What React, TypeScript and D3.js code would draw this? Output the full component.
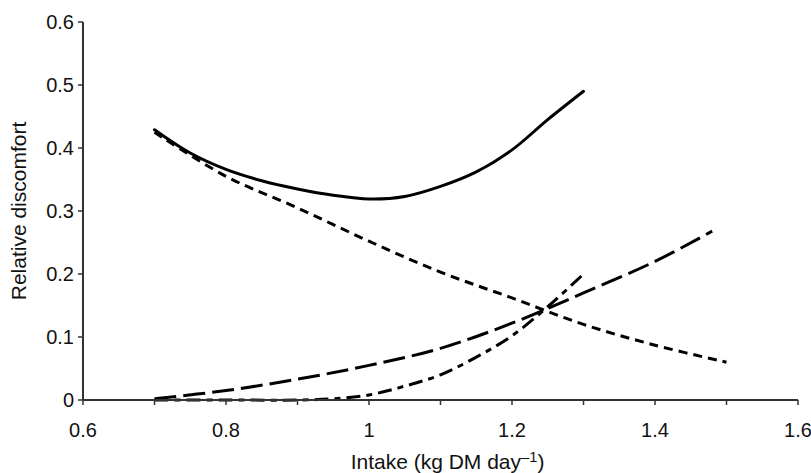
import React from "react";
import * as d3 from "d3";

// Intake (kg DM/day) vs relative discomfort
const solidX = [0.7, 0.75, 0.8, 0.85, 0.9, 0.95, 1.0, 1.05, 1.1, 1.15, 1.2, 1.25, 1.3];
const solidY = [0.429, 0.392, 0.366, 0.348, 0.335, 0.325, 0.319, 0.323, 0.339, 0.362, 0.397, 0.445, 0.49];

const shortDashX = [0.7, 0.8, 0.9, 1.0, 1.1, 1.2, 1.3, 1.4, 1.5];
const shortDashY = [0.425, 0.355, 0.305, 0.252, 0.203, 0.162, 0.12, 0.087, 0.06];

const longDashX = [0.7, 0.8, 0.9, 1.0, 1.1, 1.2, 1.3, 1.4, 1.48];
const longDashY = [0.002, 0.015, 0.033, 0.055, 0.082, 0.122, 0.17, 0.22, 0.268];

const mixedDashX = [0.7, 0.8, 0.9, 0.95, 1.0, 1.05, 1.1, 1.15, 1.2, 1.25, 1.3];
const mixedDashY = [0, 0, 0, 0.002, 0.008, 0.022, 0.04, 0.068, 0.102, 0.148, 0.2];

const xTicks = [0.6, 0.7, 0.8, 0.9, 1.0, 1.1, 1.2, 1.3, 1.4, 1.5, 1.6];
const xTickLabels = ["0.6", "", "0.8", "", "1", "", "1.2", "", "1.4", "", "1.6"];
const yTicks = [0, 0.1, 0.2, 0.3, 0.4, 0.5, 0.6];
const yTickLabels = ["0", "0.1", "0.2", "0.3", "0.4", "0.5", "0.6"];

const W = 811;
const H = 473;
const left = 83, right = 798, top = 22, bottom = 400;

export default function App() {
  const x = d3.scaleLinear().domain([0.6, 1.6]).range([left, right]);
  const y = d3.scaleLinear().domain([0, 0.6]).range([bottom, top]);
  const line = d3
    .line<[number, number]>()
    .x((d) => x(d[0]))
    .y((d) => y(d[1]))
    .curve(d3.curveCatmullRom.alpha(0.5));
  const pts = (xs: number[], ys: number[]) => xs.map((v, i) => [v, ys[i]] as [number, number]);
  const font = "Liberation Sans, Arial, Helvetica, sans-serif";
  const fs = 20;
  const fsTitle = 21;
  const axisColor = "#333";

  return (
    <svg
      width={W}
      height={H}
      style={{ position: "absolute", left: 0, top: 0, background: "#fff" }}
      fontFamily={font}
    >
      <path d={line(pts(shortDashX, shortDashY)) || ""} fill="none" stroke="#000" strokeWidth={3} strokeDasharray="9,6" />
      <path d={line(pts(longDashX, longDashY)) || ""} fill="none" stroke="#000" strokeWidth={3} strokeDasharray="22,7" />
      <path d={line(pts(mixedDashX, mixedDashY)) || ""} fill="none" stroke="#000" strokeWidth={3} strokeDasharray="14,6,6,6" />
      <path d={line(pts(solidX, solidY)) || ""} fill="none" stroke="#000" strokeWidth={3} strokeLinecap="round" />

      {/* axes */}
      <line x1={left} x2={left} y1={top} y2={bottom} stroke={axisColor} strokeWidth={2} />
      <line x1={left} x2={right} y1={bottom} y2={bottom} stroke={axisColor} strokeWidth={2} />
      {yTicks.map((t, i) => (
        <g key={"y" + i}>
          <line x1={left - 5} x2={left} y1={y(t)} y2={y(t)} stroke={axisColor} strokeWidth={1.5} />
          <text x={left - 9} y={y(t)} dy="0.35em" textAnchor="end" fontSize={fs} fill="#111">
            {yTickLabels[i]}
          </text>
        </g>
      ))}
      {xTicks.map((t, i) => (
        <g key={"x" + i}>
          <line x1={x(t)} x2={x(t)} y1={bottom} y2={bottom + 5} stroke={axisColor} strokeWidth={1.5} />
          {xTickLabels[i] && (
            <text x={x(t)} y={bottom + 37} textAnchor="middle" fontSize={fs} fill="#111">
              {xTickLabels[i]}
            </text>
          )}
        </g>
      ))}
      <text x={(left + right) / 2 + 7} y={H - 4} textAnchor="middle" fontSize={fsTitle} fill="#111">
        Intake (kg DM day
        <tspan fontSize={fsTitle * 0.7} dy={-7}>–1</tspan>
        <tspan dy={7}>)</tspan>
      </text>
      <text
        transform={`translate(26,${(top + bottom) / 2}) rotate(-90)`}
        textAnchor="middle"
        fontSize={fsTitle}
        fill="#111"
      >
        Relative discomfort
      </text>
    </svg>
  );
}
